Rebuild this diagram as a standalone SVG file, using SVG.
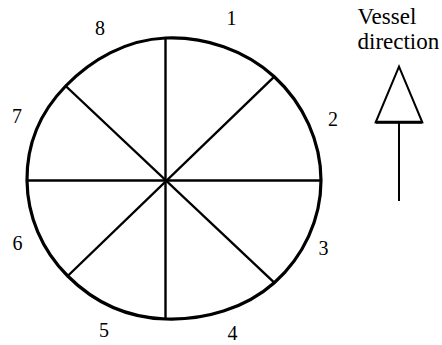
<svg xmlns="http://www.w3.org/2000/svg" width="442" height="345" viewBox="0 0 442 345">
  <style>
    .lbl { font-family: 'Liberation Serif', 'Times New Roman', serif; font-size: 20px; fill: #000; text-anchor: middle; }
    .ttl { font-family: 'Liberation Serif', 'Times New Roman', serif; font-size: 23px; fill: #000; }
    .rim { fill: #fff; stroke: #000; stroke-width: 3.2; }
    .spoke { stroke: #000; stroke-width: 2.4; fill: none; }
  </style>
  <rect width="442" height="345" fill="#fff"/>
  <g id="rim">
    <path class="rim" d="M165.5,38 C204.6,36.3 245.1,50 274.3,76.7 C303.5,103.4 321,141.9 321,180.5 C321,219.1 303.5,256.7 274.3,282.7 C245.1,308.7 204.2,320.3 165.5,319 C126.8,317.7 93.7,302 67.7,276 C41.7,250 27.4,216.1 27,180.5 C26.6,144.9 39.7,112.7 65.7,86 C91.7,59.3 126.4,39.7 165.5,38 Z"/>
  </g>
  <g id="spokes">
    <line class="spoke" x1="165.5" y1="38" x2="165.5" y2="319"/>
    <line class="spoke" x1="27" y1="180.5" x2="321" y2="180.5"/>
    <line class="spoke" x1="274.3" y1="76.7" x2="67.7" y2="276"/>
    <line class="spoke" x1="65.7" y1="86" x2="274.3" y2="282.7"/>
  </g>
  <g id="labels">
    <text class="lbl" x="231.5" y="25">1</text>
    <text class="lbl" x="333" y="126">2</text>
    <text class="lbl" x="323.5" y="255">3</text>
    <text class="lbl" x="232.5" y="340">4</text>
    <text class="lbl" x="104" y="336.5">5</text>
    <text class="lbl" x="17.5" y="250">6</text>
    <text class="lbl" x="17" y="123">7</text>
    <text class="lbl" x="100" y="35">8</text>
  </g>
  <g id="vessel-direction">
    <text class="ttl" x="357.5" y="24">Vessel</text>
    <text class="ttl" x="357.5" y="49">direction</text>
    <polygon points="399,66.7 375.7,122.3 422.3,122.3" fill="#fff" stroke="#000" stroke-width="2" stroke-linejoin="miter"/>
    <line x1="375.7" y1="122.3" x2="422.3" y2="122.3" stroke="#000" stroke-width="3"/>
    <line x1="399" y1="122.3" x2="399" y2="201" stroke="#000" stroke-width="2"/>
  </g>
</svg>
